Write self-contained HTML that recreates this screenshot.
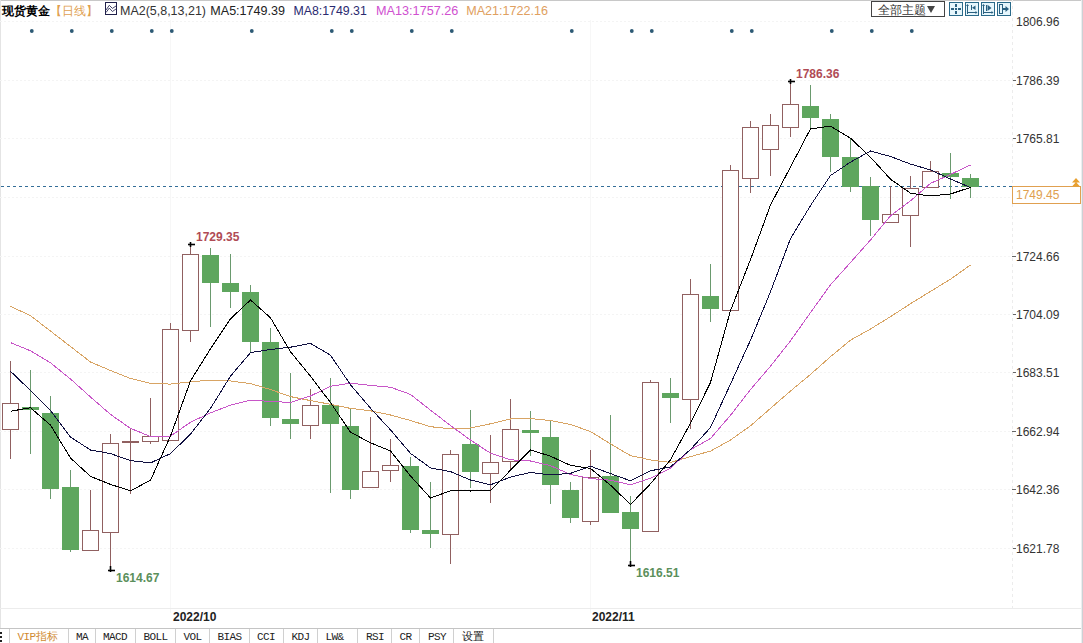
<!DOCTYPE html>
<html><head><meta charset="utf-8"><style>
html,body{margin:0;padding:0;background:#fff;}
body{width:1083px;height:643px;overflow:hidden;position:relative;font-family:"Liberation Sans",sans-serif;}
svg{position:absolute;left:0;top:0;}
.ax{font-size:12px;fill:#333;font-family:"Liberation Sans",sans-serif;}
.hd{position:absolute;top:2px;font-size:12.4px;line-height:16px;white-space:nowrap;}
.tab{position:absolute;top:629px;height:14px;font-family:"Liberation Mono",monospace;font-size:11px;letter-spacing:-0.6px;line-height:14px;color:#222;}
.sep{position:absolute;top:629px;width:1px;height:14px;background:#d0d0d0;}
.hd{font-size:13px;font-family:"Liberation Sans",sans-serif;}
.tb text{font-family:"Liberation Mono",monospace;font-size:11px;letter-spacing:-0.6px;fill:#222;}
.pl{font-family:"Liberation Sans",sans-serif;font-weight:bold;font-size:12px;}
</style></head><body>
<svg width="1083" height="643" viewBox="0 0 1083 643" shape-rendering="crispEdges">
<rect x="0" y="0" width="1083" height="1" fill="#c8c8c8"/>
<rect x="0" y="0" width="1" height="628" fill="#e4e4e4"/>
<rect x="1082" y="0" width="1" height="643" fill="#cdd0d4"/><rect x="1081" y="0" width="1" height="643" fill="#eceef0"/>
<line x1="0" y1="21.5" x2="1012" y2="21.5" stroke="#f4f4f4" stroke-dasharray="2,2"/>
<line x1="0" y1="80.5" x2="1012" y2="80.5" stroke="#f4f4f4" stroke-dasharray="2,2"/><line x1="1012" y1="80.5" x2="1016" y2="80.5" stroke="#666"/>
<line x1="0" y1="138.5" x2="1012" y2="138.5" stroke="#f4f4f4" stroke-dasharray="2,2"/><line x1="1012" y1="138.5" x2="1016" y2="138.5" stroke="#666"/>
<line x1="0" y1="197.5" x2="1012" y2="197.5" stroke="#f4f4f4" stroke-dasharray="2,2"/><line x1="1012" y1="197.5" x2="1016" y2="197.5" stroke="#666"/>
<line x1="0" y1="256.5" x2="1012" y2="256.5" stroke="#f4f4f4" stroke-dasharray="2,2"/><line x1="1012" y1="256.5" x2="1016" y2="256.5" stroke="#666"/>
<line x1="0" y1="314.5" x2="1012" y2="314.5" stroke="#f4f4f4" stroke-dasharray="2,2"/><line x1="1012" y1="314.5" x2="1016" y2="314.5" stroke="#666"/>
<line x1="0" y1="372.5" x2="1012" y2="372.5" stroke="#f4f4f4" stroke-dasharray="2,2"/><line x1="1012" y1="372.5" x2="1016" y2="372.5" stroke="#666"/>
<line x1="0" y1="431.5" x2="1012" y2="431.5" stroke="#f4f4f4" stroke-dasharray="2,2"/><line x1="1012" y1="431.5" x2="1016" y2="431.5" stroke="#666"/>
<line x1="0" y1="489.5" x2="1012" y2="489.5" stroke="#f4f4f4" stroke-dasharray="2,2"/><line x1="1012" y1="489.5" x2="1016" y2="489.5" stroke="#666"/>
<line x1="0" y1="548.5" x2="1012" y2="548.5" stroke="#f4f4f4" stroke-dasharray="2,2"/><line x1="1012" y1="548.5" x2="1016" y2="548.5" stroke="#666"/>
<line x1="1012.5" y1="0" x2="1012.5" y2="608" stroke="#ececec" stroke-dasharray="3,3"/>
<line x1="170.5" y1="20" x2="170.5" y2="613" stroke="#f7f7f7"/>
<line x1="590.5" y1="20" x2="590.5" y2="613" stroke="#f7f7f7"/>
<rect x="0" y="608" width="1081" height="1" fill="#ececec"/>
<rect x="0" y="628" width="1081" height="1" fill="#c4c4c4"/>
<line x1="0" y1="186.5" x2="1012" y2="186.5" stroke="#346e98" stroke-dasharray="3,3" stroke-dashoffset="-1"/>
<line x1="10.5" y1="361" x2="10.5" y2="403" stroke="#906060"/>
<line x1="10.5" y1="430" x2="10.5" y2="459" stroke="#906060"/>
<rect x="2.5" y="403.5" width="16" height="26" fill="#fff" stroke="#906060"/>
<line x1="30.5" y1="370" x2="30.5" y2="454" stroke="#6a9a6e"/>
<rect x="22" y="407" width="17" height="3" fill="#5ea65e"/>
<line x1="50.5" y1="396" x2="50.5" y2="499" stroke="#6a9a6e"/>
<rect x="42" y="413" width="17" height="76" fill="#5ea65e"/>
<line x1="70.5" y1="470" x2="70.5" y2="552" stroke="#6a9a6e"/>
<rect x="62" y="487" width="17" height="63" fill="#5ea65e"/>
<line x1="90.5" y1="490" x2="90.5" y2="530" stroke="#906060"/>
<rect x="82.5" y="530.5" width="16" height="20" fill="#fff" stroke="#906060"/>
<line x1="110.5" y1="434" x2="110.5" y2="443" stroke="#906060"/>
<line x1="110.5" y1="533" x2="110.5" y2="571" stroke="#906060"/>
<rect x="102.5" y="443.5" width="16" height="89" fill="#fff" stroke="#906060"/>
<line x1="130.5" y1="428" x2="130.5" y2="494" stroke="#906060"/>
<rect x="122" y="441" width="17" height="2" fill="#906060"/>
<line x1="150.5" y1="398" x2="150.5" y2="436" stroke="#906060"/>
<line x1="150.5" y1="442" x2="150.5" y2="444" stroke="#906060"/>
<rect x="142.5" y="436.5" width="16" height="5" fill="#fff" stroke="#906060"/>
<line x1="170.5" y1="323" x2="170.5" y2="329" stroke="#906060"/>
<rect x="162.5" y="329.5" width="16" height="111" fill="#fff" stroke="#906060"/>
<line x1="190.5" y1="244" x2="190.5" y2="254" stroke="#906060"/>
<line x1="190.5" y1="331" x2="190.5" y2="342" stroke="#906060"/>
<rect x="182.5" y="254.5" width="16" height="76" fill="#fff" stroke="#906060"/>
<line x1="210.5" y1="248" x2="210.5" y2="327" stroke="#6a9a6e"/>
<rect x="202" y="255" width="17" height="28" fill="#5ea65e"/>
<line x1="230.5" y1="254" x2="230.5" y2="308" stroke="#6a9a6e"/>
<rect x="222" y="283" width="17" height="9" fill="#5ea65e"/>
<line x1="250.5" y1="285" x2="250.5" y2="353" stroke="#6a9a6e"/>
<rect x="242" y="292" width="17" height="50" fill="#5ea65e"/>
<line x1="270.5" y1="328" x2="270.5" y2="426" stroke="#6a9a6e"/>
<rect x="262" y="342" width="17" height="76" fill="#5ea65e"/>
<line x1="290.5" y1="373" x2="290.5" y2="439" stroke="#6a9a6e"/>
<rect x="282" y="419" width="17" height="5" fill="#5ea65e"/>
<line x1="310.5" y1="389" x2="310.5" y2="405" stroke="#906060"/>
<line x1="310.5" y1="426" x2="310.5" y2="439" stroke="#906060"/>
<rect x="302.5" y="405.5" width="16" height="20" fill="#fff" stroke="#906060"/>
<line x1="330.5" y1="378" x2="330.5" y2="493" stroke="#6a9a6e"/>
<rect x="322" y="405" width="17" height="19" fill="#5ea65e"/>
<line x1="350.5" y1="409" x2="350.5" y2="499" stroke="#6a9a6e"/>
<rect x="342" y="426" width="17" height="64" fill="#5ea65e"/>
<line x1="370.5" y1="417" x2="370.5" y2="471" stroke="#906060"/>
<rect x="362.5" y="471.5" width="16" height="16" fill="#fff" stroke="#906060"/>
<line x1="390.5" y1="439" x2="390.5" y2="465" stroke="#906060"/>
<line x1="390.5" y1="471" x2="390.5" y2="482" stroke="#906060"/>
<rect x="382.5" y="465.5" width="16" height="5" fill="#fff" stroke="#906060"/>
<line x1="410.5" y1="457" x2="410.5" y2="533" stroke="#6a9a6e"/>
<rect x="402" y="466" width="17" height="64" fill="#5ea65e"/>
<line x1="430.5" y1="482" x2="430.5" y2="548" stroke="#6a9a6e"/>
<rect x="422" y="530" width="17" height="4" fill="#5ea65e"/>
<line x1="450.5" y1="450" x2="450.5" y2="454" stroke="#906060"/>
<line x1="450.5" y1="535" x2="450.5" y2="564" stroke="#906060"/>
<rect x="442.5" y="454.5" width="16" height="80" fill="#fff" stroke="#906060"/>
<line x1="470.5" y1="410" x2="470.5" y2="488" stroke="#6a9a6e"/>
<rect x="462" y="444" width="17" height="28" fill="#5ea65e"/>
<line x1="490.5" y1="435" x2="490.5" y2="462" stroke="#906060"/>
<line x1="490.5" y1="474" x2="490.5" y2="503" stroke="#906060"/>
<rect x="482.5" y="462.5" width="16" height="11" fill="#fff" stroke="#906060"/>
<line x1="510.5" y1="399" x2="510.5" y2="429" stroke="#906060"/>
<line x1="510.5" y1="462" x2="510.5" y2="469" stroke="#906060"/>
<rect x="502.5" y="429.5" width="16" height="32" fill="#fff" stroke="#906060"/>
<line x1="530.5" y1="411" x2="530.5" y2="456" stroke="#6a9a6e"/>
<rect x="522" y="430" width="17" height="3" fill="#5ea65e"/>
<line x1="550.5" y1="420" x2="550.5" y2="504" stroke="#6a9a6e"/>
<rect x="542" y="437" width="17" height="48" fill="#5ea65e"/>
<line x1="570.5" y1="482" x2="570.5" y2="523" stroke="#6a9a6e"/>
<rect x="562" y="490" width="17" height="28" fill="#5ea65e"/>
<line x1="590.5" y1="450" x2="590.5" y2="477" stroke="#906060"/>
<line x1="590.5" y1="522" x2="590.5" y2="525" stroke="#906060"/>
<rect x="582.5" y="477.5" width="16" height="44" fill="#fff" stroke="#906060"/>
<line x1="610.5" y1="415" x2="610.5" y2="513" stroke="#6a9a6e"/>
<rect x="602" y="476" width="17" height="37" fill="#5ea65e"/>
<line x1="630.5" y1="496" x2="630.5" y2="567" stroke="#6a9a6e"/>
<rect x="622" y="512" width="17" height="17" fill="#5ea65e"/>
<line x1="650.5" y1="380" x2="650.5" y2="382" stroke="#906060"/>
<rect x="642.5" y="382.5" width="16" height="149" fill="#fff" stroke="#906060"/>
<line x1="670.5" y1="378" x2="670.5" y2="423" stroke="#6a9a6e"/>
<rect x="662" y="393" width="17" height="5" fill="#5ea65e"/>
<line x1="690.5" y1="279" x2="690.5" y2="294" stroke="#906060"/>
<line x1="690.5" y1="400" x2="690.5" y2="429" stroke="#906060"/>
<rect x="682.5" y="294.5" width="16" height="105" fill="#fff" stroke="#906060"/>
<line x1="710.5" y1="264" x2="710.5" y2="322" stroke="#6a9a6e"/>
<rect x="702" y="296" width="17" height="13" fill="#5ea65e"/>
<line x1="730.5" y1="165" x2="730.5" y2="170" stroke="#906060"/>
<rect x="722.5" y="170.5" width="16" height="140" fill="#fff" stroke="#906060"/>
<line x1="750.5" y1="121" x2="750.5" y2="127" stroke="#906060"/>
<line x1="750.5" y1="179" x2="750.5" y2="193" stroke="#906060"/>
<rect x="742.5" y="127.5" width="16" height="51" fill="#fff" stroke="#906060"/>
<line x1="770.5" y1="114" x2="770.5" y2="125" stroke="#906060"/>
<line x1="770.5" y1="150" x2="770.5" y2="176" stroke="#906060"/>
<rect x="762.5" y="125.5" width="16" height="24" fill="#fff" stroke="#906060"/>
<line x1="790.5" y1="81" x2="790.5" y2="104" stroke="#906060"/>
<line x1="790.5" y1="128" x2="790.5" y2="137" stroke="#906060"/>
<rect x="782.5" y="104.5" width="16" height="23" fill="#fff" stroke="#906060"/>
<line x1="810.5" y1="85" x2="810.5" y2="128" stroke="#6a9a6e"/>
<rect x="802" y="106" width="17" height="12" fill="#5ea65e"/>
<line x1="830.5" y1="114" x2="830.5" y2="172" stroke="#6a9a6e"/>
<rect x="822" y="119" width="17" height="38" fill="#5ea65e"/>
<line x1="850.5" y1="138" x2="850.5" y2="192" stroke="#6a9a6e"/>
<rect x="842" y="157" width="17" height="30" fill="#5ea65e"/>
<line x1="870.5" y1="177" x2="870.5" y2="236" stroke="#6a9a6e"/>
<rect x="862" y="186" width="17" height="34" fill="#5ea65e"/>
<line x1="890.5" y1="186" x2="890.5" y2="214" stroke="#906060"/>
<rect x="882.5" y="214.5" width="16" height="8" fill="#fff" stroke="#906060"/>
<line x1="910.5" y1="176" x2="910.5" y2="188" stroke="#906060"/>
<line x1="910.5" y1="216" x2="910.5" y2="247" stroke="#906060"/>
<rect x="902.5" y="188.5" width="16" height="27" fill="#fff" stroke="#906060"/>
<line x1="930.5" y1="161" x2="930.5" y2="171" stroke="#906060"/>
<rect x="922.5" y="171.5" width="16" height="16" fill="#fff" stroke="#906060"/>
<line x1="950.5" y1="153" x2="950.5" y2="199" stroke="#6a9a6e"/>
<rect x="942" y="173" width="17" height="4" fill="#5ea65e"/>
<line x1="970.5" y1="174" x2="970.5" y2="198" stroke="#6a9a6e"/>
<rect x="962" y="178" width="17" height="9" fill="#5ea65e"/>
<polyline points="10.5,306.3 30.5,315.7 50.5,331.1 70.5,346.5 90.5,362.0 110.5,370.5 130.5,378.5 150.5,383.3 170.5,384.1 190.5,381.8 210.5,380.2 230.5,381.0 250.5,383.6 270.5,389.5 290.5,396.6 310.5,400.6 330.5,404.3 350.5,408.4 370.5,410.8 390.5,415.0 410.5,420.5 430.5,426.7 450.5,428.8 470.5,428.0 490.5,423.8 510.5,419.0 530.5,418.5 550.5,420.6 570.5,424.5 590.5,431.5 610.5,443.9 630.5,455.6 650.5,459.9 670.5,462.5 690.5,456.6 710.5,451.1 730.5,440.0 750.5,425.8 770.5,408.4 790.5,391.0 810.5,374.4 830.5,356.7 850.5,340.1 870.5,329.0 890.5,316.7 910.5,303.7 930.5,291.4 950.5,279.2 970.5,265.0" fill="none" stroke="#d8a464" stroke-width="1"/>
<polyline points="10.5,342.6 30.5,350.8 50.5,362.8 70.5,379.0 90.5,397.0 110.5,414.4 130.5,428.4 150.5,436.5 170.5,436.2 190.5,422.2 210.5,412.9 230.5,405.1 250.5,400.2 270.5,401.4 290.5,402.5 310.5,396.0 330.5,386.3 350.5,383.2 370.5,385.4 390.5,387.2 410.5,394.4 430.5,410.2 450.5,425.5 470.5,440.1 490.5,453.2 510.5,459.8 530.5,461.0 550.5,465.7 570.5,474.4 590.5,478.5 610.5,480.2 630.5,484.7 650.5,478.3 670.5,468.2 690.5,449.7 710.5,438.5 730.5,415.3 750.5,389.5 770.5,366.2 790.5,340.8 810.5,312.6 830.5,284.8 850.5,262.5 870.5,240.0 890.5,215.8 910.5,200.8 930.5,183.4 950.5,174.4 970.5,165.0" fill="none" stroke="#c856c8" stroke-width="1"/>
<polyline points="10.5,371.3 30.5,390.5 50.5,410.4 70.5,437.0 90.5,450.0 110.5,453.6 130.5,460.6 150.5,462.9 170.5,453.6 190.5,434.1 210.5,408.4 230.5,376.1 250.5,352.6 270.5,349.5 290.5,347.2 310.5,343.4 330.5,355.2 350.5,384.8 370.5,408.2 390.5,429.9 410.5,453.4 430.5,467.9 450.5,471.6 470.5,480.0 490.5,484.8 510.5,477.1 530.5,472.4 550.5,474.9 570.5,473.4 590.5,466.2 610.5,473.6 630.5,480.8 650.5,470.8 670.5,466.9 690.5,449.5 710.5,427.5 730.5,384.0 750.5,340.2 770.5,291.8 790.5,238.6 810.5,205.6 830.5,175.5 850.5,162.1 870.5,151.0 890.5,156.5 910.5,164.1 930.5,169.9 950.5,179.0 970.5,187.6" fill="none" stroke="#101040" stroke-width="1"/>
<polyline points="10.5,411.2 30.5,407.8 50.5,425.1 70.5,458.0 90.5,476.4 110.5,484.4 130.5,490.8 150.5,480.2 170.5,436.0 190.5,380.8 210.5,348.8 230.5,318.8 250.5,300.0 270.5,317.8 290.5,351.8 310.5,376.2 330.5,402.6 350.5,432.2 370.5,442.8 390.5,451.0 410.5,476.0 430.5,498.0 450.5,490.8 470.5,491.0 490.5,490.4 510.5,470.2 530.5,450.0 550.5,456.2 570.5,465.4 590.5,468.4 610.5,485.2 630.5,504.4 650.5,483.8 670.5,459.8 690.5,423.2 710.5,382.4 730.5,310.6 750.5,259.6 770.5,205.0 790.5,167.0 810.5,128.8 830.5,126.2 850.5,138.2 870.5,157.2 890.5,179.2 910.5,193.2 930.5,196.0 950.5,194.0 970.5,187.4" fill="none" stroke="#000" stroke-width="1"/>
<circle cx="31.8" cy="31" r="1.9" fill="#2d5a75" shape-rendering="auto"/>
<circle cx="71.8" cy="31" r="1.9" fill="#2d5a75" shape-rendering="auto"/>
<circle cx="111.8" cy="31" r="1.9" fill="#2d5a75" shape-rendering="auto"/>
<circle cx="151.8" cy="31" r="1.9" fill="#2d5a75" shape-rendering="auto"/>
<circle cx="171.8" cy="31" r="1.9" fill="#2d5a75" shape-rendering="auto"/>
<circle cx="251.8" cy="31" r="1.9" fill="#2d5a75" shape-rendering="auto"/>
<circle cx="331.8" cy="31" r="1.9" fill="#2d5a75" shape-rendering="auto"/>
<circle cx="351.8" cy="31" r="1.9" fill="#2d5a75" shape-rendering="auto"/>
<circle cx="411.8" cy="31" r="1.9" fill="#2d5a75" shape-rendering="auto"/>
<circle cx="451.8" cy="31" r="1.9" fill="#2d5a75" shape-rendering="auto"/>
<circle cx="571.8" cy="31" r="1.9" fill="#2d5a75" shape-rendering="auto"/>
<circle cx="631.8" cy="31" r="1.9" fill="#2d5a75" shape-rendering="auto"/>
<circle cx="651.8" cy="31" r="1.9" fill="#2d5a75" shape-rendering="auto"/>
<circle cx="731.8" cy="31" r="1.9" fill="#2d5a75" shape-rendering="auto"/>
<circle cx="751.8" cy="31" r="1.9" fill="#2d5a75" shape-rendering="auto"/>
<circle cx="831.8" cy="31" r="1.9" fill="#2d5a75" shape-rendering="auto"/>
<circle cx="871.8" cy="31" r="1.9" fill="#2d5a75" shape-rendering="auto"/>
<circle cx="911.8" cy="31" r="1.9" fill="#2d5a75" shape-rendering="auto"/>
<!-- markers -->
<g stroke="#000" stroke-width="1.6" shape-rendering="auto">
<line x1="108" y1="570.5" x2="115" y2="570.5"/><line x1="110.5" y1="566" x2="110.5" y2="572"/>
<line x1="628" y1="565.5" x2="635" y2="565.5"/><line x1="630.5" y1="561" x2="630.5" y2="567"/>
<line x1="188" y1="244.5" x2="195" y2="244.5"/><line x1="190.5" y1="242" x2="190.5" y2="247"/>
<line x1="788" y1="81.5" x2="795" y2="81.5"/><line x1="790.5" y1="79" x2="790.5" y2="84"/>
</g>
<text x="116" y="582" class="pl" fill="#5b8f5b">1614.67</text>
<text x="636" y="577" class="pl" fill="#5b8f5b">1616.51</text>
<text x="196" y="241" class="pl" fill="#b04b55">1729.35</text>
<text x="796" y="78" class="pl" fill="#b04b55">1786.36</text>
<text x="1016" y="25.5" class="ax">1806.96</text>
<text x="1016" y="84.5" class="ax">1786.39</text>
<text x="1016" y="142.5" class="ax">1765.81</text>
<text x="1016" y="260.5" class="ax">1724.66</text>
<text x="1016" y="318.5" class="ax">1704.09</text>
<text x="1016" y="376.5" class="ax">1683.51</text>
<text x="1016" y="435.5" class="ax">1662.94</text>
<text x="1016" y="493.5" class="ax">1642.36</text>
<text x="1016" y="552.5" class="ax">1621.78</text>
<!-- price tag -->
<rect x="1012.5" y="186.5" width="68" height="17" fill="#fff" stroke="#e0a050"/>
<text x="1016" y="198.5" class="ax" style="fill:#e0a050">1749.45</text>
<path d="M1072,182.5 L1076,178 L1080,182.5 Z M1072,186.5 L1076,182 L1080,186.5 Z" fill="#e8a030" shape-rendering="auto"/>
<text x="173" y="621" class="pl" fill="#222">2022/10</text>
<text x="592" y="621" class="pl" fill="#222">2022/11</text>

<!-- header -->
<text x="2" y="14.5" class="hd" fill="#000" style="font-size:12px;font-weight:600">现货黄金</text>
<text x="50" y="14.5" class="hd" fill="#e0a050" style="font-size:12px">【日线】</text>
<rect x="105.5" y="2.5" width="11" height="12" fill="#fff" stroke="#20204a" stroke-width="1.2"/>
<polyline points="106,10 109.3,5.3 112.4,8.4 116,6" fill="none" stroke="#30305a" stroke-width="0.9" shape-rendering="auto"/>
<polyline points="106,12.5 109.3,8.1 112.4,11.5 116,9" fill="none" stroke="#30305a" stroke-width="0.9" shape-rendering="auto"/>
<text x="120" y="15" class="hd" fill="#333" textLength="86" lengthAdjust="spacingAndGlyphs">MA2(5,8,13,21)</text>
<text x="210.3" y="15" class="hd" fill="#222" textLength="74.7" lengthAdjust="spacingAndGlyphs">MA5:1749.39</text>
<text x="293.4" y="15" class="hd" fill="#2a2a70" textLength="73.4" lengthAdjust="spacingAndGlyphs">MA8:1749.31</text>
<text x="376" y="15" class="hd" fill="#d050d0" textLength="82.4" lengthAdjust="spacingAndGlyphs">MA13:1757.26</text>
<text x="466.2" y="15" class="hd" fill="#e0a060" textLength="81.9" lengthAdjust="spacingAndGlyphs">MA21:1722.16</text>
<!-- dropdown -->
<rect x="871.5" y="1.5" width="73" height="15" fill="#fff" stroke="#444"/>
<text x="878" y="14" class="hd" fill="#333" style="font-size:12px">全部主题</text>
<path d="M927,6 L935,6 L931,13 Z" fill="#444" shape-rendering="auto"/>
<!-- icons -->
<g stroke="#2a6a8a" fill="#e6f6fc">
<rect x="949.5" y="2.5" width="13" height="13"/>
<rect x="965.5" y="2.5" width="13" height="13"/>
<rect x="981.5" y="2.5" width="13" height="13"/>
<rect x="997.5" y="2.5" width="13" height="13"/>
</g>
<g fill="#2a6080">
<rect x="955" y="4" width="2" height="3"/><rect x="955" y="11" width="2" height="3"/><rect x="951" y="8" width="3" height="2"/><rect x="958" y="8" width="3" height="2"/><rect x="955" y="8" width="2" height="2"/>
<rect x="967" y="5" width="1" height="9"/><path d="M967.5,4 L966,6 L969,6 Z" shape-rendering="auto"/><rect x="967" y="12" width="9" height="1"/><path d="M977.5,12.5 L975.5,11 L975.5,14 Z" shape-rendering="auto"/><rect x="971" y="5" width="1" height="5"/><path d="M975.5,5.5 L972,7.8 L975.5,10 Z" shape-rendering="auto"/>
<rect x="983" y="5" width="1" height="9"/><path d="M983.5,4 L982,6 L985,6 Z" shape-rendering="auto"/><rect x="983" y="12" width="9" height="1"/><path d="M993.5,12.5 L991.5,11 L991.5,14 Z" shape-rendering="auto"/><rect x="986" y="5" width="1" height="6"/><path d="M987.5,4.8 L991.5,8 L987.5,11 Z" shape-rendering="auto"/>
<rect x="999.5" y="4.5" width="3" height="9" fill="none" stroke="#2a6080"/><rect x="1003" y="8" width="3" height="2"/><path d="M1005.5,6 L1009,9 L1005.5,12 Z" shape-rendering="auto"/>
</g>

<!-- tabs -->
<g fill="#d0d0d0">
<rect x="9" y="629" width="1" height="14"/>
<rect x="68" y="629" width="1" height="14"/>
<rect x="95" y="629" width="1" height="14"/>
<rect x="135" y="629" width="1" height="14"/>
<rect x="175" y="629" width="1" height="14"/>
<rect x="209" y="629" width="1" height="14"/>
<rect x="249" y="629" width="1" height="14"/>
<rect x="283" y="629" width="1" height="14"/>
<rect x="317" y="629" width="1" height="14"/>
<rect x="357" y="629" width="1" height="14"/>
<rect x="391" y="629" width="1" height="14"/>
<rect x="419" y="629" width="1" height="14"/>
<rect x="453" y="629" width="1" height="14"/>
<rect x="493" y="629" width="1" height="14"/>
</g>
<rect x="0" y="632" width="2" height="2" fill="#222"/><rect x="0" y="636" width="2" height="2" fill="#222"/><rect x="0" y="640" width="2" height="2" fill="#222"/>
<g class="tb">
<text x="17.5" y="640" style="fill:#d08a30">VIP<tspan style="font-family:'Liberation Sans',sans-serif;letter-spacing:0">指标</tspan></text>
<text x="76" y="640">MA</text>
<text x="103" y="640">MACD</text>
<text x="143.5" y="640">BOLL</text>
<text x="183.5" y="640">VOL</text>
<text x="217.5" y="640">BIAS</text>
<text x="257" y="640">CCI</text>
<text x="291.5" y="640">KDJ</text>
<text x="325.5" y="640">LW&amp;</text>
<text x="366" y="640">RSI</text>
<text x="399.5" y="640">CR</text>
<text x="428" y="640">PSY</text>
<text x="462" y="640" style="font-family:'Liberation Sans',sans-serif;letter-spacing:0">设置</text>
</g>
</svg>
</body></html>
